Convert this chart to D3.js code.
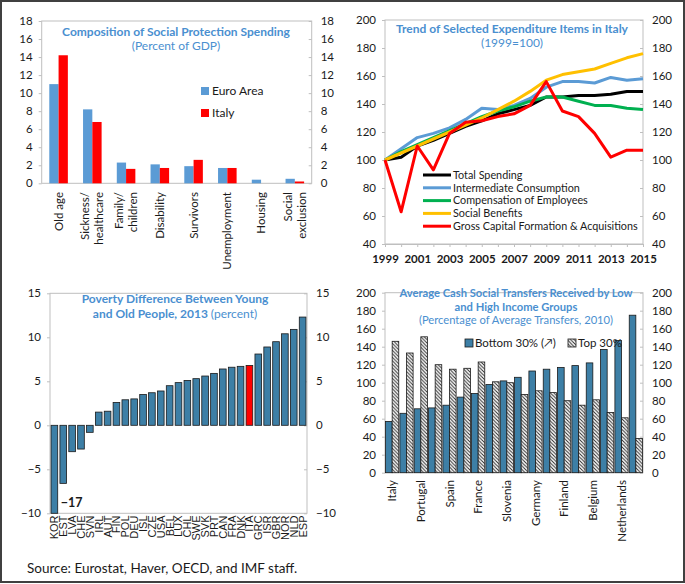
<!DOCTYPE html>
<html>
<head>
<meta charset="utf-8">
<script src="https://cdn.jsdelivr.net/npm/d3@7"></script>
<style>
  body { margin: 0; background: #fff; }
  svg text { font-family: Lato, "Open Sans", sans-serif; fill: #1a1a1a; }
</style>
</head>
<body>
<div id="chart"></div>
<script>
// --- panel 1: composition of social protection spending (% of GDP)
const spendCats = ["Old age", "Sickness/|healthcare", "Family/|children", "Disability", "Survivors", "Unemployment", "Housing", "Social|exclusion"]
const spendEuro = [11.0, 8.2, 2.3, 2.1, 1.9, 1.7, 0.4, 0.5]
const spendItaly = [14.2, 6.8, 1.6, 1.7, 2.6, 1.7, 0.0, 0.2]
const spendTicks = [0, 2, 4, 6, 8, 10, 12, 14, 16, 18]

// --- panel 2: expenditure items in Italy (1999=100)
const years = [1999, 2000, 2001, 2002, 2003, 2004, 2005, 2006, 2007, 2008, 2009, 2010, 2011, 2012, 2013, 2014, 2015]
const totalSpending = [100, 102, 110, 114, 119, 124, 128, 133, 136, 139, 145, 145, 146, 146, 147, 149, 149]
const intermediate = [100, 108, 116, 119, 123, 129, 137, 136, 139, 144, 152, 156, 156, 155, 159, 157, 158]
const compensation = [100, 106, 111, 116, 121, 126, 131, 135, 138, 142, 145, 145, 142, 139, 139, 137, 136]
const socialBenefits = [100, 105, 110, 115, 120, 125, 130, 136, 142, 149, 157, 161, 163, 165, 169, 173, 176]
const grossCapital = [100, 63, 110, 93, 119, 127, 128, 131, 133, 139, 156, 135, 131, 119, 102, 107, 107]
const trendNames = ["Total Spending", "Intermediate Consumption", "Compensation of Employees", "Social Benefits", "Gross Capital Formation & Acquisitions"]
const yearTicks = [1999, 2001, 2003, 2005, 2007, 2009, 2011, 2013, 2015]
const trendTicks = [40, 60, 80, 100, 120, 140, 160, 180, 200]

// --- panel 3: poverty difference between young and old, 2013
const povCountries = ["KOR", "EST", "LVA", "CHE", "SVN", "IRL", "AUT", "FIN", "POL", "DEU", "ISL", "CZE", "USA", "BEL", "LUX", "CHL", "SWE", "SVK", "PRT", "CAN", "FRA", "DNK", "ITA", "GRC", "ISR", "GBR", "NOR", "NLD", "ESP"]
const povValues = [-17, -6.6, -3.0, -2.7, -0.8, 1.5, 1.6, 2.6, 2.9, 3.0, 3.5, 3.7, 3.9, 4.5, 4.85, 5.1, 5.3, 5.6, 5.9, 6.4, 6.6, 6.7, 6.8, 8.1, 8.9, 9.5, 10.4, 10.9, 12.3]
const povTicks = [-10, -5, 0, 5, 10, 15]

// --- panel 4: cash social transfers by income group (% of average, 2010)
const transferCountries = ["Italy", "Greece", "Portugal", "Cyprus", "Spain", "Luxembourg", "France", "Austria", "Slovenia", "Estonia", "Germany", "Slovakia", "Finland", "Ireland", "Belgium", "Malta", "Netherlands", "Latvia"]
const bottom30 = [57, 66, 71, 72, 75, 84, 88, 98, 102, 106, 113, 115, 117, 119, 122, 137, 147, 175]
const top30 = [146, 133, 151, 120, 115, 116, 123, 101, 100, 87, 91, 89, 80, 75, 81, 67, 61, 38]
const transferTicks = [0, 20, 40, 60, 80, 100, 120, 140, 160, 180, 200]

const W = 685, H = 584
const titleBlue = "#4a8fd0"
const frameGray = "#bfbfbf"

const svg = d3.select("#chart").append("svg")
  .attr("width", W)
  .attr("height", H)

svg.append("rect").attr("width", W).attr("height", H).attr("fill", "#fff")

const defs = svg.append("defs")
const hatch = defs.append("pattern")
  .attr("id", "hatch")
  .attr("patternUnits", "userSpaceOnUse")
  .attr("width", 3.5).attr("height", 3.5)
hatch.append("rect").attr("width", 3.5).attr("height", 3.5).attr("fill", "#fff")
hatch.append("path")
  .attr("d", "M-1,-1L4.5,4.5M-1,2.5L1,4.5M2.5,-1L4.5,1")
  .attr("stroke", "#2a2a2a").attr("stroke-width", 1)

// y axes on both sides, plus a gray frame round the plot area
function frameAndAxes(g, y, ticks, x0, x1, fmt) {
  g.append("rect")
    .attr("x", x0).attr("y", y.range()[1])
    .attr("width", x1 - x0).attr("height", y.range()[0] - y.range()[1])
    .attr("fill", "none").attr("stroke", frameGray)

  const left = g.append("g")
    .attr("transform", `translate(${x0},0)`)
    .call(d3.axisLeft(y).tickValues(ticks).tickSize(3).tickPadding(6).tickFormat(fmt || d3.format("d")))
  const right = g.append("g")
    .attr("transform", `translate(${x1},0)`)
    .call(d3.axisRight(y).tickValues(ticks).tickSize(-3).tickPadding(9).tickFormat(fmt || d3.format("d")))
  for (const a of [left, right]) {
    a.select(".domain").remove()
    a.selectAll("line").attr("stroke", frameGray)
    a.selectAll("text").attr("font-size", 11.5).attr("font-family", null).attr("fill", "#1a1a1a")
  }
}

function title(g, lines, cx) {
  lines.forEach(([txt, y, weight, size]) => {
    g.append("text")
      .attr("x", cx).attr("y", y)
      .attr("text-anchor", "middle")
      .attr("font-size", size || 12)
      .attr("font-weight", weight)
      .style("fill", titleBlue)
      .text(txt)
  })
}

// ---------------- panel 1
{
  const g = svg.append("g")
  const x0 = 41.7, x1 = 311.7
  const y = d3.scaleLinear().domain([0, 18]).range([183.3, 21])
  const x = d3.scaleBand().domain(spendCats).range([x0, x1]).paddingInner(0.45).paddingOuter(0.225)
  const xs = d3.scaleBand().domain(["euro", "italy"]).range([0, x.bandwidth()])

  frameAndAxes(g, y, spendTicks, x0, x1)

  const series = [
    { key: "euro", values: spendEuro, color: "#5b9bd5", name: "Euro Area" },
    { key: "italy", values: spendItaly, color: "#ff0000", name: "Italy" }
  ]
  series.forEach(s => {
    g.selectAll(null).data(spendCats).enter().append("rect")
      .attr("x", d => x(d) + xs(s.key))
      .attr("width", xs.bandwidth())
      .attr("y", (d, i) => y(s.values[i]))
      .attr("height", (d, i) => y(0) - y(s.values[i]))
      .attr("fill", s.color)
  })

  spendCats.forEach(c => {
    const parts = c.split("|")
    const cx = x(c) + x.bandwidth() / 2
    parts.forEach((p, j) => {
      const px = cx + (j - (parts.length - 1) / 2) * 14
      g.append("text")
        .attr("transform", `translate(${px},192) rotate(-90)`)
        .attr("text-anchor", "end")
        .attr("dy", "0.35em")
        .attr("font-size", 11.5)
        .text(p)
    })
  })

  series.forEach((s, i) => {
    g.append("rect").attr("x", 201).attr("y", 87 + i * 22).attr("width", 8).attr("height", 8).attr("fill", s.color)
    g.append("text").attr("x", 212).attr("y", 95 + i * 22).attr("font-size", 12).text(s.name)
  })

  title(g, [["Composition of Social Protection Spending", 36, "bold"], ["(Percent of GDP)", 50, "normal"]], 176)
}

// ---------------- panel 2
{
  const g = svg.append("g")
  const x0 = 385, x1 = 643
  const x = d3.scaleLinear().domain([1999, 2015]).range([x0, x1])
  const y = d3.scaleLinear().domain([40, 200]).range([244, 20])

  frameAndAxes(g, y, trendTicks, x0, x1)

  const xa = g.append("g")
    .attr("transform", `translate(0,${y(40)})`)
    .call(d3.axisBottom(x).tickValues(years).tickSize(3).tickFormat(d => yearTicks.includes(d) ? d : ""))
  xa.select(".domain").attr("stroke", frameGray)
  xa.selectAll("line").attr("stroke", frameGray)
  xa.selectAll("text").attr("font-size", 11.5).attr("font-weight", "bold").attr("font-family", null).attr("fill", "#1a1a1a").attr("dy", "1.1em")

  const trends = [
    { values: totalSpending, color: "#000000" },
    { values: intermediate, color: "#5b9bd5" },
    { values: compensation, color: "#00b050" },
    { values: socialBenefits, color: "#ffc000" },
    { values: grossCapital, color: "#ff0000" }
  ]
  const line = d3.line().x((d, i) => x(years[i])).y(d => y(d))
  trends.forEach(t => {
    g.append("path").attr("d", line(t.values))
      .attr("fill", "none").attr("stroke", t.color).attr("stroke-width", 3)
      .attr("stroke-linejoin", "round")
  })

  trendNames.forEach((n, i) => {
    const ly = 175 + i * 12.8
    g.append("line").attr("x1", 423).attr("x2", 451).attr("y1", ly).attr("y2", ly)
      .attr("stroke", trends[i].color).attr("stroke-width", 3)
    g.append("text").attr("x", 453).attr("y", ly).attr("dy", "0.35em").attr("font-size", 10.8).text(n)
  })

  title(g, [["Trend of Selected Expenditure Items in Italy", 33, "bold"], ["(1999=100)", 47, "normal"]], 512)
}

// ---------------- panel 3
{
  const g = svg.append("g")
  const x0 = 50, x1 = 307
  const x = d3.scaleBand().domain(povCountries).range([x0, x1]).paddingInner(0.25).paddingOuter(0.12)
  const y = d3.scaleLinear().domain([-10, 15]).range([513.3, 293.3]).clamp(true)

  frameAndAxes(g, y, povTicks, x0, x1)

  g.selectAll(null).data(povCountries).enter().append("rect")
    .attr("x", d => x(d))
    .attr("width", x.bandwidth())
    .attr("y", (d, i) => y(Math.max(0, povValues[i])))
    .attr("height", (d, i) => Math.abs(y(povValues[i]) - y(0)))
    .attr("fill", d => d === "ITA" ? "#ff0000" : "#3d7fa6")
    .attr("stroke", "#1a1a1a").attr("stroke-width", 0.8)

  g.append("text")
    .attr("x", x("KOR") + x.bandwidth() + 3).attr("y", 507)
    .attr("font-size", 12.5).attr("font-weight", "bold")
    .text(d3.format("d")(povValues[0]))

  povCountries.forEach(c => {
    g.append("text")
      .attr("transform", `translate(${x(c) + x.bandwidth() / 2},515.5) rotate(-90)`)
      .attr("text-anchor", "end")
      .attr("dy", "0.36em")
      .attr("font-size", 11)
      .style("font-family", "'Liberation Sans', Arial, sans-serif")
      .text(c)
  })

  g.append("text").attr("x", 175).attr("y", 303).attr("text-anchor", "middle")
    .attr("font-size", 12).attr("font-weight", "bold").style("fill", titleBlue)
    .text("Poverty Difference Between Young")
  const t2 = g.append("text").attr("x", 175).attr("y", 318).attr("text-anchor", "middle")
    .attr("font-size", 12).style("fill", titleBlue)
  t2.append("tspan").attr("font-weight", "bold").text("and Old People, 2013 ")
  t2.append("tspan").text("(percent)")
}

// ---------------- panel 4
{
  const g = svg.append("g")
  const x0 = 385, x1 = 643
  const x = d3.scaleBand().domain(transferCountries).range([x0, x1]).paddingInner(0.08).paddingOuter(0.04)
  const xs = d3.scaleBand().domain(["bottom", "top"]).range([0, x.bandwidth()])
  const y = d3.scaleLinear().domain([0, 200]).range([472.7, 292.7])

  frameAndAxes(g, y, transferTicks, x0, x1)

  const groups = [
    { key: "bottom", values: bottom30, fill: "#3d7fa6" },
    { key: "top", values: top30, fill: "url(#hatch)" }
  ]
  groups.forEach(s => {
    g.selectAll(null).data(transferCountries).enter().append("rect")
      .attr("x", d => x(d) + xs(s.key))
      .attr("width", xs.bandwidth())
      .attr("y", (d, i) => y(s.values[i]))
      .attr("height", (d, i) => y(0) - y(s.values[i]))
      .attr("fill", s.fill)
      .attr("stroke", "#1a1a1a").attr("stroke-width", 0.8)
  })

  transferCountries.forEach((c, i) => {
    if (i % 2) return
    g.append("text")
      .attr("transform", `translate(${x(c) + x.bandwidth() / 2},480) rotate(-90)`)
      .attr("text-anchor", "end")
      .attr("dy", "0.35em")
      .attr("font-size", 11.5)
      .text(c)
  })

  // legend
  g.append("rect").attr("x", 465).attr("y", 339).attr("width", 8).attr("height", 8)
    .attr("fill", "#3d7fa6").attr("stroke", "#1a1a1a").attr("stroke-width", 0.8)
  g.append("text").attr("x", 475).attr("y", 347).attr("font-size", 11.5).text("Bottom 30% (\u2197)")
  g.append("rect").attr("x", 568).attr("y", 339).attr("width", 8).attr("height", 8)
    .attr("fill", "url(#hatch)").attr("stroke", "#1a1a1a").attr("stroke-width", 0.8)
  g.append("text").attr("x", 578).attr("y", 347).attr("font-size", 11.5).text("Top 30%")

  title(g, [
    ["Average Cash Social Transfers Received by Low", 297, "bold", 11.2],
    ["and High Income Groups", 310.7, "bold", 11.2],
    ["(Percentage of Average Transfers, 2010)", 324.4, "normal", 11.2]
  ], 516)
}

// source + outer frame
svg.append("text").attr("x", 27).attr("y", 573).attr("font-size", 13.5).text("Source: Eurostat, Haver, OECD, and IMF staff.")
svg.append("rect").attr("x", 1).attr("y", 1).attr("width", W - 2).attr("height", 581)
  .attr("fill", "none").attr("stroke", "#404040").attr("stroke-width", 2)
</script>
</body>
</html>
